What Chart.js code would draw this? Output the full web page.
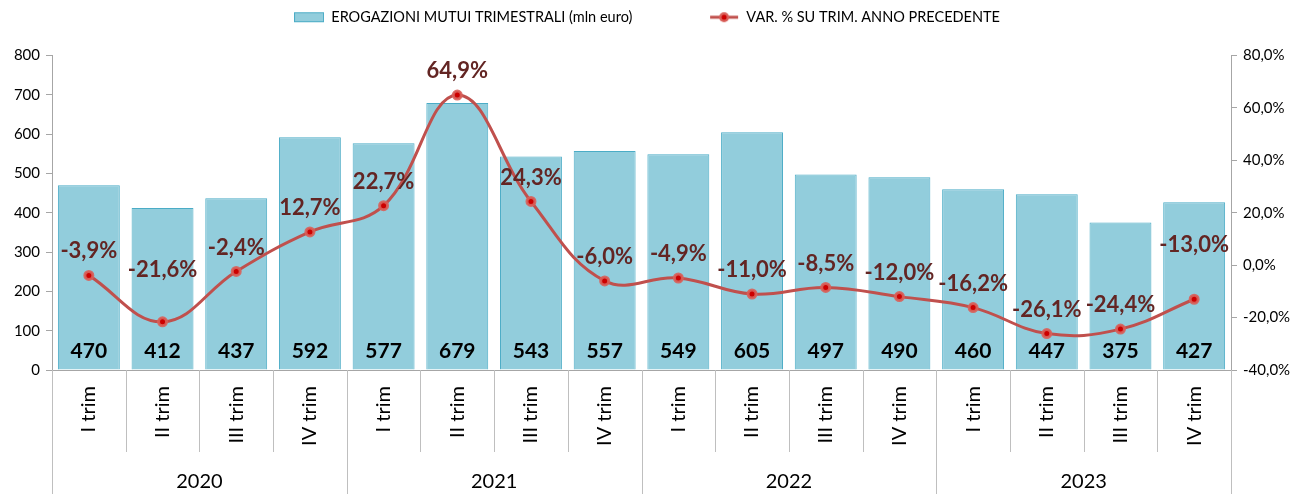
<!DOCTYPE html>
<html>
<head>
<meta charset="utf-8">
<script src="https://cdn.jsdelivr.net/npm/chart.js@4.4.1/dist/chart.umd.min.js"></script>
<style>
  html, body { margin: 0; padding: 0; background: #fff; }
  #wrap { width: 1294px; height: 494px; }
</style>
</head>
<body>
<div id="wrap"><canvas id="chart"></canvas></div>
<script>
const quarters = ["I trim", "II trim", "III trim", "IV trim",
                  "I trim", "II trim", "III trim", "IV trim",
                  "I trim", "II trim", "III trim", "IV trim",
                  "I trim", "II trim", "III trim", "IV trim"];
const years = ["2020", "2021", "2022", "2023"];
const erogazioni = [470, 412, 437, 592, 577, 679, 543, 557, 549, 605, 497, 490, 460, 447, 375, 427];
const variazione = [-3.9, -21.6, -2.4, 12.7, 22.7, 64.9, 24.3, -6.0, -4.9, -11.0, -8.5, -12.0, -16.2, -26.1, -24.4, -13.0];

const FONT = "Lato, 'Open Sans', sans-serif";
const BAR_FILL = "#92CDDC";
const BAR_EDGE = "#4BACC6";
const LINE_COL = "#C0504D";
const LABEL_RED = "#632523";

// a couple of line labels sit higher in the original
const labelLift = [0, 28, 0, 0, 0, 0, 0, 0, 0, 0, 0, 0, 0, 0, 0, 30];

function fmtPct(v, digits) {
  return v.toFixed(digits).replace(".", ",") + "%";
}

function legendIcon(kind) {
  let c = document.createElement("canvas");
  c.width = 30;
  c.height = 14;
  let g = c.getContext("2d");
  if (kind == "bar") {
    g.fillStyle = BAR_FILL;
    g.fillRect(0, 2, 30, 10);
    g.strokeStyle = BAR_EDGE;
    g.lineWidth = 1;
    g.strokeRect(0.5, 2.5, 29, 9);
  } else {
    g.strokeStyle = LINE_COL;
    g.lineWidth = 3;
    g.beginPath();
    g.moveTo(1, 7);
    g.lineTo(29, 7);
    g.stroke();
    g.fillStyle = "#D9605A";
    g.beginPath();
    g.arc(15, 7, 5, 0, Math.PI * 2);
    g.fill();
    g.fillStyle = "#CC0000";
    g.beginPath();
    g.arc(15, 7, 2.5, 0, Math.PI * 2);
    g.fill();
  }
  return c;
}

// give the legend box some extra room under it
const legendGap = {
  id: "legendGap",
  beforeUpdate(chart) {
    const lg = chart.legend;
    if (!lg || lg._gapPatched) return;
    const fit = lg.fit;
    lg.fit = function () {
      fit.call(this);
      this.height += 21;
    };
    lg._gapPatched = true;
  },
};

const valueLabels = {
  id: "valueLabels",
  afterDatasetsDraw(chart) {
    const ctx = chart.ctx;
    const x = chart.scales.x;
    const y = chart.scales.y;
    const y1 = chart.scales.y1;
    ctx.save();
    ctx.textAlign = "center";
    ctx.textBaseline = "middle";
    ctx.font = "bold 21px " + FONT;
    ctx.fillStyle = "#000";
    erogazioni.forEach((v, i) => {
      ctx.fillText(String(v), x.getPixelForValue(i), y.getPixelForValue(0) - 19);
    });
    ctx.font = "bold 22px " + FONT;
    ctx.fillStyle = LABEL_RED;
    variazione.forEach((v, i) => {
      ctx.fillText(fmtPct(v, 1), x.getPixelForValue(i), y1.getPixelForValue(v) - 24 - labelLift[i]);
    });
    ctx.restore();
  },
};

const yearGroups = {
  id: "yearGroups",
  afterDraw(chart) {
    const ctx = chart.ctx;
    const x = chart.scales.x;
    const top = chart.chartArea.bottom;
    const step = x.getPixelForValue(1) - x.getPixelForValue(0);
    ctx.save();
    ctx.strokeStyle = "#BFBFBF";
    ctx.lineWidth = 1;
    for (let i = 0; i <= quarters.length; i++) {
      let px = Math.round(x.getPixelForValue(i) - step / 2) + 0.5;
      let bottom = i % 4 == 0 ? chart.height : top + 82;
      ctx.beginPath();
      ctx.moveTo(px, top);
      ctx.lineTo(px, bottom);
      ctx.stroke();
    }
    ctx.fillStyle = "#000";
    ctx.font = "20px " + FONT;
    ctx.textAlign = "center";
    ctx.textBaseline = "middle";
    years.forEach((yr, k) => {
      let cx = (x.getPixelForValue(k * 4) + x.getPixelForValue(k * 4 + 3)) / 2;
      ctx.fillText(yr, cx, top + 112);
    });
    ctx.restore();
  },
};

let ctx = document.getElementById("chart").getContext("2d");

let mutuiChart = new Chart(ctx, {
  data: {
    labels: quarters,
    datasets: [
      {
        type: "bar",
        label: "EROGAZIONI MUTUI TRIMESTRALI (mln euro)",
        data: erogazioni,
        backgroundColor: BAR_FILL,
        borderColor: BAR_EDGE,
        borderWidth: 1,
        barPercentage: 0.84,
        categoryPercentage: 1,
        yAxisID: "y",
        order: 2,
      },
      {
        type: "line",
        label: "VAR. % SU TRIM. ANNO PRECEDENTE",
        data: variazione,
        borderColor: LINE_COL,
        borderWidth: 3,
        tension: 0.4,
        pointRadius: 4,
        pointBorderWidth: 3,
        pointBackgroundColor: "#CC0000",
        pointBorderColor: "rgba(217,96,90,0.9)",
        yAxisID: "y1",
        order: 1,
      },
    ],
  },
  options: {
    responsive: true,
    maintainAspectRatio: false,
    animation: false,
    layout: { padding: { top: 0, left: 0, right: 0, bottom: 0 } },
    plugins: {
      tooltip: { enabled: false },
      legend: {
        position: "top",
        labels: {
          usePointStyle: true,
          pointStyleWidth: 30,
          padding: 10,
          color: "#000",
          font: { family: FONT, size: 14.5 },
          generateLabels(chart) {
            return [
              {
                text: "EROGAZIONI MUTUI TRIMESTRALI (mln euro)" + " ".repeat(18),
                pointStyle: legendIcon("bar"),
                fillStyle: BAR_FILL,
                strokeStyle: BAR_EDGE,
                lineWidth: 0,
                datasetIndex: 0,
              },
              {
                text: "VAR. % SU TRIM. ANNO PRECEDENTE",
                pointStyle: legendIcon("line"),
                fillStyle: LINE_COL,
                strokeStyle: LINE_COL,
                lineWidth: 0,
                datasetIndex: 1,
              },
            ];
          },
        },
      },
    },
    scales: {
      x: {
        grid: { display: false },
        border: { display: true, color: "#A6A6A6" },
        ticks: {
          minRotation: 90,
          maxRotation: 90,
          padding: 8,
          color: "#000",
          font: { family: FONT, size: 20 },
        },
        afterFit(scale) {
          scale.height = 124;
        },
      },
      y: {
        position: "left",
        min: 0,
        max: 800,
        grid: { drawOnChartArea: false, tickLength: 6, color: "#A6A6A6" },
        border: { color: "#A6A6A6" },
        ticks: {
          stepSize: 100,
          padding: 6,
          color: "#000",
          font: { family: FONT, size: 15 },
        },
        afterFit(scale) {
          scale.width = 52;
        },
      },
      y1: {
        position: "right",
        min: -40,
        max: 80,
        grid: { drawOnChartArea: false, tickLength: 6, color: "#A6A6A6" },
        border: { color: "#A6A6A6" },
        ticks: {
          stepSize: 20,
          padding: 6,
          color: "#000",
          font: { family: FONT, size: 15 },
          callback: function (value) {
            return fmtPct(value, 1);
          },
        },
        afterFit(scale) {
          scale.width = 63;
        },
      },
    },
  },
  plugins: [legendGap, valueLabels, yearGroups],
});
</script>
</body>
</html>
